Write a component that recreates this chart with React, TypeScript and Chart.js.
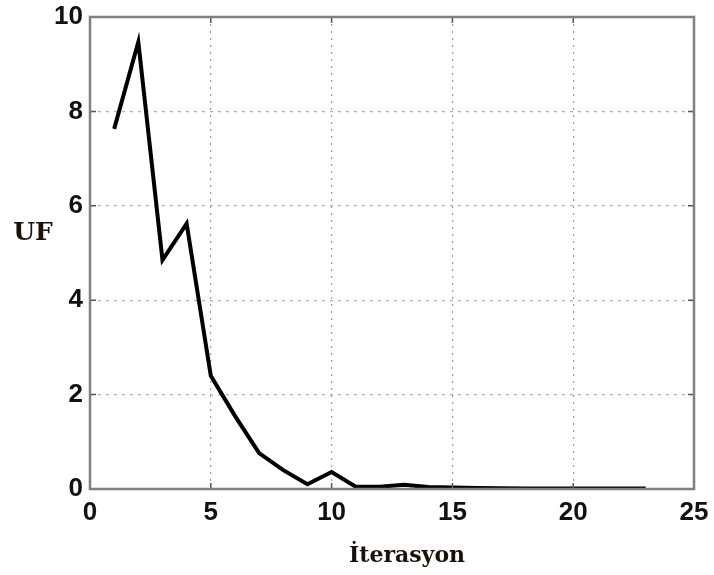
import React, { useEffect, useRef } from "react";
import { Chart, registerables } from "chart.js";

Chart.register(...registerables);

const iterations = [1, 2, 3, 4, 5, 6, 7, 8, 9, 10, 11, 12, 13, 14, 15, 16, 17, 18, 19, 20, 21, 22, 23];
const ufValues = [7.63, 9.47, 4.85, 5.62, 2.4, 1.55, 0.76, 0.4, 0.1, 0.36, 0.05, 0.05, 0.09, 0.04, 0.03, 0.02, 0.015, 0.01, 0.01, 0.01, 0.01, 0.01, 0.01];
const xTicks = [0, 5, 10, 15, 20, 25];
const yTicks = [0, 2, 4, 6, 8, 10];
const xTitle = "İterasyon";
const yTitle = "UF";

const framePlugin = {
  id: "frame",
  afterDraw(chart: any) {
    const { ctx, chartArea } = chart;
    const { left, right, top, bottom } = chartArea;
    const xs = chart.scales.x;
    const ys = chart.scales.y;
    ctx.save();
    // tick marks inward
    ctx.strokeStyle = "#555";
    ctx.lineWidth = 1.5;
    ctx.beginPath();
    xTicks.forEach((v) => {
      const px = xs.getPixelForValue(v);
      ctx.moveTo(px, bottom);
      ctx.lineTo(px, bottom - 6);
      ctx.moveTo(px, top);
      ctx.lineTo(px, top + 6);
    });
    yTicks.forEach((v) => {
      const py = ys.getPixelForValue(v);
      ctx.moveTo(left, py);
      ctx.lineTo(left + 6, py);
      ctx.moveTo(right, py);
      ctx.lineTo(right - 6, py);
    });
    ctx.stroke();
    // frame
    ctx.strokeStyle = "#808080";
    ctx.lineWidth = 2.5;
    ctx.strokeRect(left, top, right - left, bottom - top);
    // titles
    ctx.fillStyle = "#1a1208";
    ctx.textAlign = "center";
    ctx.textBaseline = "alphabetic";
    ctx.font = "bold 25px 'DejaVu Serif', 'Liberation Serif', serif";
    ctx.fillText(yTitle, 33, 240);
    ctx.font = "bold 22px 'DejaVu Serif', 'Liberation Serif', serif";
    ctx.fillText(xTitle, 407, 562);
    ctx.restore();
  },
};

export default function App() {
  const ref = useRef<HTMLCanvasElement>(null);
  useEffect(() => {
    if (!ref.current) return;
    const chart = new Chart(ref.current, {
      type: "line",
      data: {
        datasets: [
          {
            data: iterations.map((x, i) => ({ x, y: ufValues[i] })),
            borderColor: "#000",
            borderWidth: 4,
            pointRadius: 0,
            tension: 0,
            fill: false,
          },
        ],
      },
      options: {
        animation: false,
        responsive: false,
        maintainAspectRatio: false,
        layout: { padding: { left: 0, top: 17, right: 20, bottom: 0 } },
        plugins: { legend: { display: false }, tooltip: { enabled: false } },
        scales: {
          x: {
            type: "linear",
            min: 0,
            max: 25,
            afterBuildTicks: (s: any) => {
              s.ticks = xTicks.map((v) => ({ value: v }));
            },
            afterFit: (s: any) => {
              s.height = 86;
              s.paddingLeft = 0;
              s.paddingRight = 0;
            },
            ticks: {
              color: "#111",
              padding: 8,
              font: { family: "'Liberation Sans', Arial, sans-serif", weight: "bold", size: 26 },
            },
            grid: { color: "#9a9a9a", lineWidth: 1.2, drawTicks: false },
            border: { display: false, dash: [2, 5] },
            title: { display: false, text: xTitle },
          },
          y: {
            type: "linear",
            min: 0,
            max: 10,
            afterBuildTicks: (s: any) => {
              s.ticks = yTicks.map((v) => ({ value: v }));
            },
            afterFit: (s: any) => {
              s.width = 90;
              s.paddingTop = 0;
              s.paddingBottom = 0;
            },
            ticks: {
              color: "#111",
              padding: 7,
              font: { family: "'Liberation Sans', Arial, sans-serif", weight: "bold", size: 26 },
            },
            grid: { color: "#b0b0b0", lineWidth: 1.2, drawTicks: false },
            border: { display: false, dash: [3, 5] },
          },
        },
      },
      plugins: [framePlugin],
    } as any);
    return () => chart.destroy();
  }, []);
  return (
    <div style={{ position: "absolute", left: 0, top: 0, width: 714, height: 575, background: "#fff" }}>
      <canvas ref={ref} width={714} height={575} style={{ display: "block", width: 714, height: 575 }} />
    </div>
  );
}
